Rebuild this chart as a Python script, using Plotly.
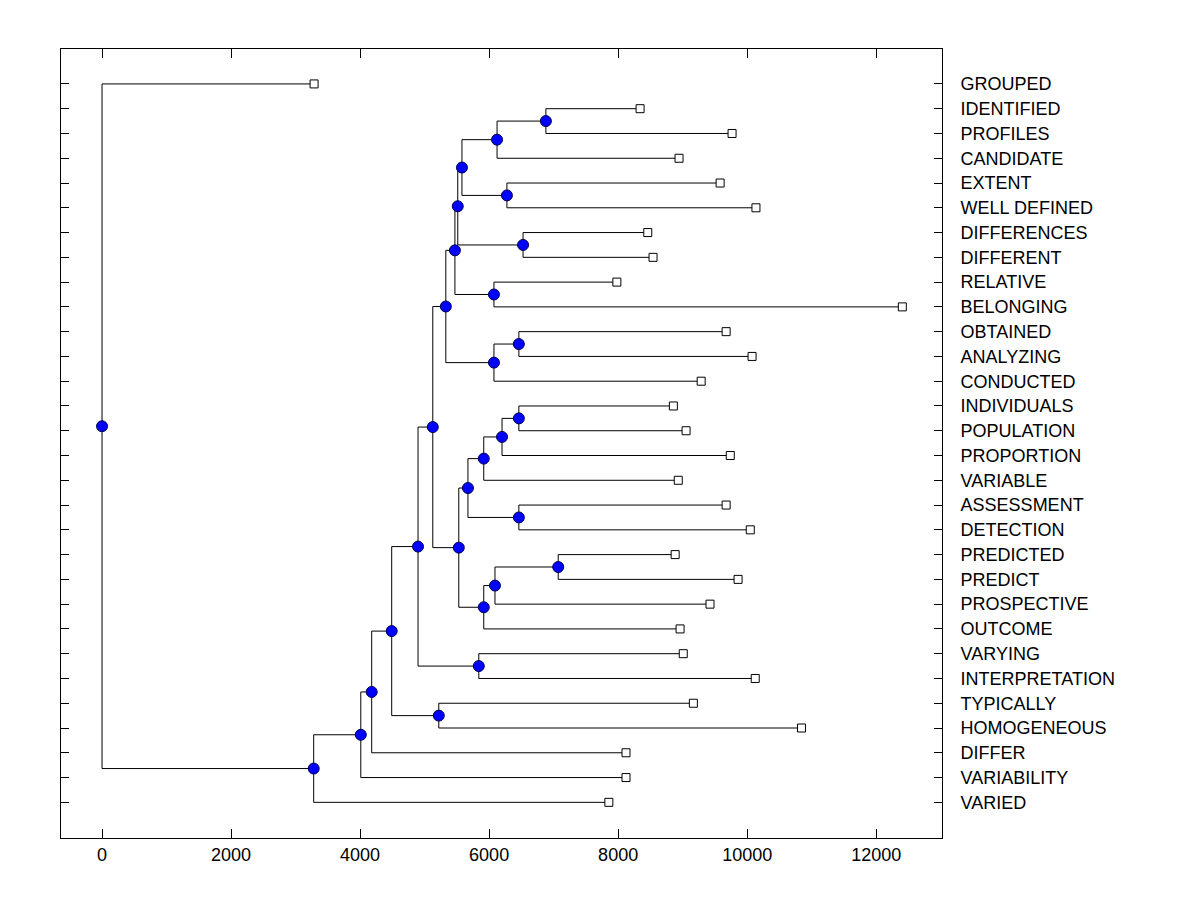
import plotly.graph_objects as go

# leaves, top to bottom
leaves = ['GROUPED', 'IDENTIFIED', 'PROFILES', 'CANDIDATE', 'EXTENT',
          'WELL DEFINED', 'DIFFERENCES', 'DIFFERENT', 'RELATIVE', 'BELONGING',
          'OBTAINED', 'ANALYZING', 'CONDUCTED', 'INDIVIDUALS', 'POPULATION',
          'PROPORTION', 'VARIABLE', 'ASSESSMENT', 'DETECTION', 'PREDICTED',
          'PREDICT', 'PROSPECTIVE', 'OUTCOME', 'VARYING', 'INTERPRETATION',
          'TYPICALLY', 'HOMOGENEOUS', 'DIFFER', 'VARIABILITY', 'VARIED']
leaf_x = [3287, 8340, 9766, 8944, 9581,
          10136, 8459, 8541, 7980, 12405,
          9674, 10076, 9287, 8856, 9053,
          9738, 8932, 9674, 10048, 8884,
          9859, 9424, 8960, 9009, 10125,
          9166, 10842, 8122, 8122, 7856]

# merges: (child a, child b, height); ids 0..29 are leaves, 30+ are merges in order
merge_a = [1, 30, 4, 31, 6, 33, 8, 35, 10, 38, 37, 13, 41, 42, 17,
           43, 19, 46, 47, 45, 40, 23, 50, 25, 52, 54, 55, 56, 0]
merge_b = [2, 3, 5, 32, 7, 34, 9, 36, 11, 12, 39, 14, 15, 16, 18,
           44, 20, 21, 22, 48, 49, 24, 51, 26, 53, 27, 28, 29, 57]
merge_h = [6880, 6123, 6276, 5579, 6526, 5514, 6075, 5470, 6461, 6075,
           5329, 6461, 6200, 5917, 6461, 5672, 7071, 6091, 5917, 5530,
           5127, 5840, 4898, 5220, 4490, 4180, 4011, 3281, 0]

x_ticks = [0, 2000, 4000, 6000, 8000, 10000, 12000]

xs = list(leaf_x)
ys = list(range(len(leaves)))
lx, ly = [], []
for a, b, h in zip(merge_a, merge_b, merge_h):
    # elbow: child -> merge height -> other child
    lx += [xs[a], h, h, xs[b], None]
    ly += [ys[a], ys[a], ys[b], ys[b], None]
    xs.append(h)
    ys.append((ys[a] + ys[b]) / 2)

n = len(leaves)
fig = go.Figure()
fig.add_trace(go.Scatter(x=lx, y=ly, mode='lines',
                         line=dict(color='black', width=1), hoverinfo='skip'))
fig.add_trace(go.Scatter(x=xs[:n], y=ys[:n], mode='markers',
                         marker=dict(symbol='square', size=8, color='white',
                                     line=dict(color='black', width=1)),
                         text=leaves))
fig.add_trace(go.Scatter(x=xs[n:], y=ys[n:], mode='markers',
                         marker=dict(symbol='circle', size=11, color='#0000ff',
                                     line=dict(color='#000050', width=1))))

fig.update_layout(
    width=1200, height=900,
    showlegend=False,
    paper_bgcolor='white', plot_bgcolor='white',
    margin=dict(l=53, r=266, t=41, b=70),
    font=dict(family='Liberation Sans, Arial, sans-serif', size=18, color='black'),
    xaxis=dict(range=[-636, 13020], tickvals=x_ticks, tickformat='.0f',
               ticks='inside', ticklen=9, tickwidth=1, tickcolor='black',
               showline=True, linecolor='black', linewidth=1, mirror='allticks',
               showgrid=False, zeroline=False),
    yaxis=dict(range=[30.44, -1.41], side='right',
               tickvals=list(range(n)), ticktext=leaves,
               ticks='inside', ticklen=8, tickwidth=1, tickcolor='black',
               ticklabelstandoff=14,
               showline=True, linecolor='black', linewidth=1, mirror='allticks',
               showgrid=False, zeroline=False),
)

fig.write_html("out.html")
